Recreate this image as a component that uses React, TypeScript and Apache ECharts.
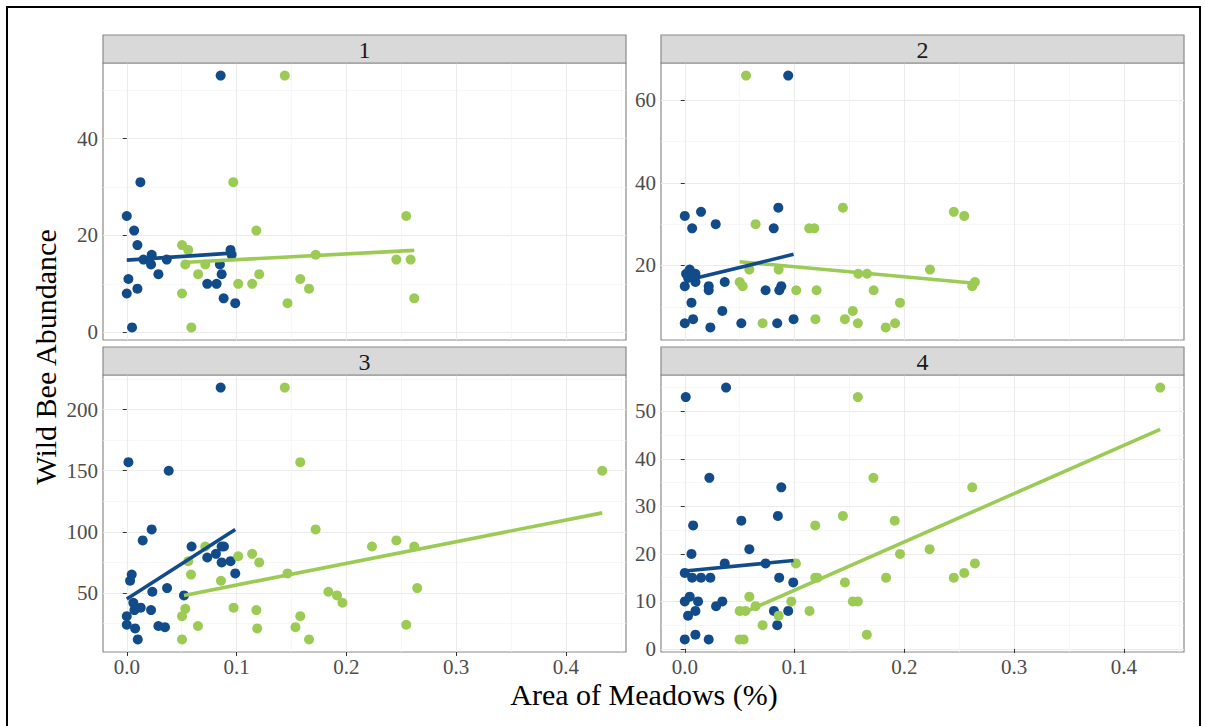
import React, { useEffect, useRef } from "react";
import * as echarts from "echarts";

const BLUE = "#124B89";
const GREEN = "#9BCB55";
const FONT = "'Liberation Serif', 'Times New Roman', serif";

// Facet labels
const facetLabels = ["1", "2", "3", "4"];

// Shared x-axis breaks
const xMajorBreaks = [0, 0.1, 0.2, 0.3, 0.4];
const xMinorBreaks = [0.05, 0.15, 0.25, 0.35, 0.45];

// Y-axis breaks per facet
const yMajor1 = [0, 20, 40];
const yMinor1 = [10, 30, 50];
const yMajor2 = [20, 40, 60];
const yMinor2 = [10, 30, 50];
const yMajor3 = [50, 100, 150, 200];
const yMinor3 = [25, 75, 125, 175, 225];
const yMajor4 = [0, 10, 20, 30, 40, 50];
const yMinor4 = [5, 15, 25, 35, 45, 55];

// Facet 1
const p1BlueX = [0.0855, 0.0124, 0, 0.0067, 0.0097, 0.0227, 0.0152, 0.0221, 0.0364, 0.0288, 0.0945, 0.0955, 0.0848, 0.0864, 0.0733, 0.0818, 0.0015, 0.0097, 0, 0.0882, 0.0988, 0.0048];
const p1BlueY = [53, 31, 24, 21, 18, 16, 15, 14, 15, 12, 17, 16, 14, 12, 10, 10, 11, 9, 8, 7, 6, 1];
const p1GreenX = [0.1439, 0.097, 0.118, 0.0503, 0.056, 0.0533, 0.0715, 0.065, 0.1206, 0.172, 0.1015, 0.1142, 0.158, 0.166, 0.0503, 0.1464, 0.0588, 0.2545, 0.2455, 0.2585, 0.2618];
const p1GreenY = [53, 31, 21, 18, 17, 14, 14, 12, 12, 16, 10, 10, 11, 9, 8, 6, 1, 24, 15, 15, 7];
const p1BlueFitX = [0, 0.0988];
const p1BlueFitY = [14.9, 16.4];
const p1GreenFitX = [0.0503, 0.2618];
const p1GreenFitY = [14.4, 16.9];

// Facet 2
const p2BlueX = [0.0942, 0, 0.0148, 0.0067, 0.0282, 0.0852, 0.081, 0.0012, 0.0045, 0.0097, 0.0097, 0.003, 0, 0.0061, 0, 0.0076, 0.0233, 0.0218, 0.0218, 0.0364, 0.0342, 0.0515, 0.0736, 0.0879, 0.0861, 0.0842, 0.0991];
const p2BlueY = [66, 32, 33, 29, 30, 34, 29, 18, 19, 18, 16, 17, 15, 11, 6, 7, 5, 15, 14, 16, 9, 6, 14, 15, 14, 6, 7];
const p2GreenX = [0.0558, 0.0645, 0.1133, 0.118, 0.144, 0.0588, 0.0855, 0.05, 0.0527, 0.1015, 0.12, 0.158, 0.166, 0.172, 0.196, 0.153, 0.119, 0.1458, 0.0709, 0.1576, 0.183, 0.1915, 0.2233, 0.245, 0.2545, 0.2642, 0.2618];
const p2GreenY = [66, 30, 29, 29, 34, 19, 19, 16, 15, 14, 14, 18, 18, 14, 11, 9, 7, 7, 6, 6, 5, 6, 19, 33, 32, 16, 15];
const p2BlueFitX = [0, 0.0991];
const p2BlueFitY = [16.3, 22.7];
const p2GreenFitX = [0.05, 0.2642];
const p2GreenFitY = [20.9, 15.7];

// Facet 3
const p3BlueX = [0.0855, 0.0015, 0.0382, 0.0227, 0.0145, 0.059, 0.0864, 0.0885, 0.0812, 0.0733, 0.0864, 0.0945, 0.0988, 0.0045, 0.003, 0.0233, 0.0367, 0.0521, 0.006, 0.007, 0.0127, 0.0221, 0, 0, 0.0076, 0.0288, 0.0348, 0.01];
const p3BlueY = [218, 157, 150, 102, 93, 88, 88, 88, 82, 79, 75, 76, 66, 65, 60, 51, 54, 48, 42, 36, 38, 36, 31, 24, 21, 23, 22, 12];
const p3GreenX = [0.1439, 0.158, 0.172, 0.2233, 0.0715, 0.1015, 0.1142, 0.1206, 0.056, 0.0585, 0.1464, 0.0858, 0.1836, 0.1915, 0.1964, 0.0533, 0.0503, 0.0973, 0.118, 0.158, 0.0648, 0.1188, 0.1536, 0.0503, 0.166, 0.2455, 0.2618, 0.2645, 0.2545, 0.433];
const p3GreenY = [218, 157, 102, 88, 88, 80, 82, 75, 76, 65, 66, 60, 51, 48, 42, 37, 31, 38, 36, 31, 23, 21, 22, 12, 12, 93, 88, 54, 24, 150];
const p3BlueFitX = [0, 0.0988];
const p3BlueFitY = [45, 102];
const p3GreenFitX = [0.0521, 0.433];
const p3GreenFitY = [48, 115.5];

// Facet 4
const p4BlueX = [0.0009, 0.0376, 0.0224, 0.0879, 0.0848, 0.0076, 0.0515, 0.0061, 0.0588, 0.0364, 0.0736, 0, 0.0067, 0.0148, 0.0233, 0.086, 0.0988, 0, 0.0045, 0.0121, 0.0285, 0.0342, 0.003, 0.0097, 0.0812, 0.0942, 0.0842, 0, 0.0097, 0.0218];
const p4BlueY = [53, 55, 36, 34, 28, 26, 27, 20, 21, 18, 18, 16, 15, 15, 15, 15, 14, 10, 11, 10, 9, 10, 7, 8, 8, 8, 5, 2, 3, 2];
const p4GreenX = [0.1576, 0.1718, 0.144, 0.1912, 0.1188, 0.196, 0.223, 0.1012, 0.1188, 0.1206, 0.1833, 0.1458, 0.0588, 0.097, 0.153, 0.1576, 0.0645, 0.05, 0.0552, 0.1136, 0.0855, 0.0709, 0.1658, 0.05, 0.0536, 0.2618, 0.2642, 0.2545, 0.245, 0.433];
const p4GreenY = [53, 36, 28, 27, 26, 20, 21, 18, 15, 15, 15, 14, 11, 10, 10, 10, 9, 8, 8, 8, 7, 5, 3, 2, 2, 34, 18, 16, 15, 55];
const p4BlueFitX = [0, 0.099];
const p4BlueFitY = [16.4, 18.6];
const p4GreenFitX = [0.05, 0.433];
const p4GreenFitY = [7.3, 46.2];

const zip = (xs: number[], ys: number[]) => xs.map((x, i) => [x, ys[i]]);

const panels = [
  { label: facetLabels[0], bx: p1BlueX, by: p1BlueY, gx: p1GreenX, gy: p1GreenY, bfx: p1BlueFitX, bfy: p1BlueFitY, gfx: p1GreenFitX, gfy: p1GreenFitY, yMaj: yMajor1, yMin: yMinor1 },
  { label: facetLabels[1], bx: p2BlueX, by: p2BlueY, gx: p2GreenX, gy: p2GreenY, bfx: p2BlueFitX, bfy: p2BlueFitY, gfx: p2GreenFitX, gfy: p2GreenFitY, yMaj: yMajor2, yMin: yMinor2 },
  { label: facetLabels[2], bx: p3BlueX, by: p3BlueY, gx: p3GreenX, gy: p3GreenY, bfx: p3BlueFitX, bfy: p3BlueFitY, gfx: p3GreenFitX, gfy: p3GreenFitY, yMaj: yMajor3, yMin: yMinor3 },
  { label: facetLabels[3], bx: p4BlueX, by: p4BlueY, gx: p4GreenX, gy: p4GreenY, bfx: p4BlueFitX, bfy: p4BlueFitY, gfx: p4GreenFitX, gfy: p4GreenFitY, yMaj: yMajor4, yMin: yMinor4 },
];

// layout of panels (plot areas)
const layout = [
  { left: 103, top: 63, width: 523, height: 277 },
  { left: 661, top: 63, width: 523, height: 277 },
  { left: 103, top: 375, width: 523, height: 277 },
  { left: 661, top: 375, width: 523, height: 277 },
];
const STRIP_H = 28;

function expandRange(vals: number[]) {
  const lo = Math.min(...vals);
  const hi = Math.max(...vals);
  const pad = (hi - lo) * 0.05;
  return [lo - pad, hi + pad];
}

export default function App() {
  const ref = useRef<HTMLDivElement>(null);
  useEffect(() => {
    if (!ref.current) return;
    const chart = echarts.init(ref.current, undefined, { renderer: "svg" });

    const allX: number[] = [];
    panels.forEach((p) => allX.push(...p.bx, ...p.gx));
    const [xMin, xMax] = expandRange(allX);

    const grids: any[] = [];
    const xAxes: any[] = [];
    const yAxes: any[] = [];
    const series: any[] = [];
    const graphics: any[] = [];

    panels.forEach((p, i) => {
      const L = layout[i];
      const bottom = i >= 2;
      const [yMin, yMax] = expandRange([...p.by, ...p.gy]);
      grids.push({
        left: L.left, top: L.top, width: L.width, height: L.height,
        show: true, backgroundColor: "#ffffff", borderColor: "#8a8a8a", borderWidth: 1.2,
      });
      xAxes.push({
        gridIndex: i, type: "value", min: xMin, max: xMax, position: "bottom",
        axisLine: { show: false },
        axisTick: { show: bottom, customValues: xMajorBreaks, length: 4, lineStyle: { color: "#333333", width: 1 } },
        axisLabel: {
          show: bottom, customValues: xMajorBreaks, formatter: (v: number) => v.toFixed(1),
          fontFamily: FONT, fontSize: 21, color: "#4D4D4D", margin: 4,
        },
        splitLine: { show: true, lineStyle: { color: "#EBEBEB", width: 1.1 } },
      });
      xAxes.push({
        gridIndex: i, type: "value", min: xMin, max: xMax, position: "top",
        axisLine: { show: false },
        axisTick: { show: false, customValues: xMinorBreaks },
        axisLabel: { show: false, customValues: xMinorBreaks },
        splitLine: { show: true, lineStyle: { color: "#F4F4F4", width: 0.7 } },
      });
      yAxes.push({
        gridIndex: i, type: "value", min: yMin, max: yMax, position: "left",
        axisLine: { show: false },
        axisTick: { show: true, customValues: p.yMaj, length: 4, lineStyle: { color: "#333333", width: 1 } },
        axisLabel: { customValues: p.yMaj, fontFamily: FONT, fontSize: 21, color: "#4D4D4D", margin: 5 },
        splitLine: { show: true, lineStyle: { color: "#EBEBEB", width: 1.1 } },
      });
      yAxes.push({
        gridIndex: i, type: "value", min: yMin, max: yMax, position: "right",
        axisLine: { show: false },
        axisTick: { show: false, customValues: p.yMin },
        axisLabel: { show: false, customValues: p.yMin },
        splitLine: { show: true, lineStyle: { color: "#F4F4F4", width: 0.7 } },
      });
      const xi = i * 2;
      const yi = i * 2;
      series.push({
        type: "scatter", xAxisIndex: xi, yAxisIndex: yi, data: zip(p.bx, p.by),
        symbolSize: 10, itemStyle: { color: BLUE, opacity: 1 }, z: 3,
      });
      series.push({
        type: "scatter", xAxisIndex: xi, yAxisIndex: yi, data: zip(p.gx, p.gy),
        symbolSize: 10, itemStyle: { color: GREEN, opacity: 1 }, z: 3,
      });
      series.push({
        type: "line", xAxisIndex: xi, yAxisIndex: yi, data: zip(p.gfx, p.gfy),
        showSymbol: false, symbol: "none", lineStyle: { color: GREEN, width: 3.6, cap: "butt" }, z: 4,
      });
      series.push({
        type: "line", xAxisIndex: xi, yAxisIndex: yi, data: zip(p.bfx, p.bfy),
        showSymbol: false, symbol: "none", lineStyle: { color: BLUE, width: 3.6, cap: "butt" }, z: 5,
      });
      // strip
      graphics.push({
        type: "rect", shape: { x: L.left, y: L.top - STRIP_H, width: L.width, height: STRIP_H },
        style: { fill: "#D9D9D9", stroke: "#8a8a8a", lineWidth: 1.2 }, z: 10,
      });
      graphics.push({
        type: "text", x: L.left + L.width / 2, y: L.top - STRIP_H / 2 + 1,
        style: { text: p.label, fontFamily: FONT, fontSize: 24, fill: "#1A1A1A", align: "center", verticalAlign: "middle" },
        z: 11,
      });
    });

    graphics.push({
      type: "text", x: 45, y: 357, rotation: Math.PI / 2,
      style: { text: "Wild Bee Abundance", fontFamily: FONT, fontSize: 30, fill: "#000000", align: "center", verticalAlign: "middle" },
      z: 11,
    });
    graphics.push({
      type: "text", x: 644, y: 694,
      style: { text: "Area of Meadows (%)", fontFamily: FONT, fontSize: 30, fill: "#000000", align: "center", verticalAlign: "middle" },
      z: 11,
    });
    graphics.push({
      type: "rect", shape: { x: 7, y: 7, width: 1193, height: 760 },
      style: { fill: "none", stroke: "#000000", lineWidth: 2 }, z: 12,
    });

    chart.setOption({
      animation: false,
      backgroundColor: "#ffffff",
      grid: grids,
      xAxis: xAxes,
      yAxis: yAxes,
      series,
      graphic: graphics,
    });
    return () => chart.dispose();
  }, []);
  return <div ref={ref} style={{ position: "fixed", left: 0, top: 0, width: 1205, height: 726 }} />;
}
